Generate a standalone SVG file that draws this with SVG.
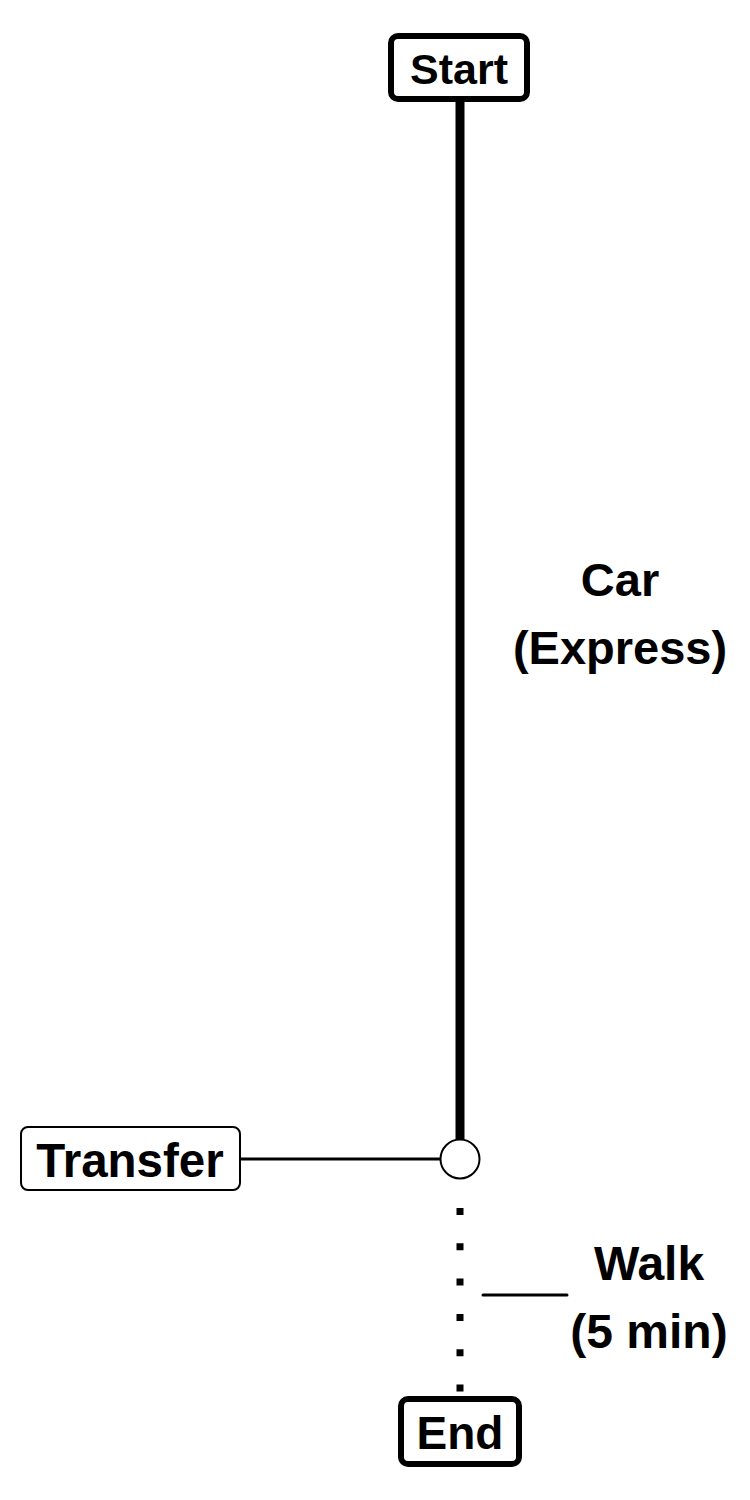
<svg xmlns="http://www.w3.org/2000/svg" width="750" height="1500" viewBox="0 0 750 1500">
<style>
text{font-family:"Liberation Sans",Arial,sans-serif;font-weight:bold;fill:#000;text-anchor:middle}
.term{fill:#fff;stroke:#000;stroke-width:6}
.box{fill:#fff;stroke:#000;stroke-width:2}
</style>
<rect width="750" height="1500" fill="#fff"/>
<g id="connectors">
<line x1="460" y1="100" x2="460" y2="1140" stroke="#000" stroke-width="9"/>
<line x1="241" y1="1159" x2="441" y2="1159" stroke="#000" stroke-width="3"/>
<line x1="460" y1="1208" x2="460" y2="1396" stroke="#000" stroke-width="7" stroke-dasharray="7 28.3"/>
<line x1="483" y1="1295" x2="567" y2="1295" stroke="#000" stroke-width="3" stroke-linecap="round"/>
<text x="620" y="596" font-size="47">Car</text>
<text x="620" y="664" font-size="47">(Express)</text>
<text x="649" y="1280" font-size="48">Walk</text>
<text x="649" y="1348" font-size="48">(5 min)</text>
</g>
<g id="start">
<rect class="term" x="391" y="36" width="136" height="63" rx="7"/>
<text x="459" y="84" font-size="43">Start</text>
</g>
<g id="transfer">
<rect class="box" x="21" y="1127" width="219" height="63" rx="7"/>
<text x="130" y="1177" font-size="47.5">Transfer</text>
</g>
<g id="junction">
<circle cx="460" cy="1159" r="19.5" fill="#fff" stroke="#000" stroke-width="2"/>
</g>
<g id="end">
<rect class="term" x="401" y="1399" width="118" height="65" rx="7"/>
<text x="460" y="1449" font-size="46">End</text>
</g>
</svg>
